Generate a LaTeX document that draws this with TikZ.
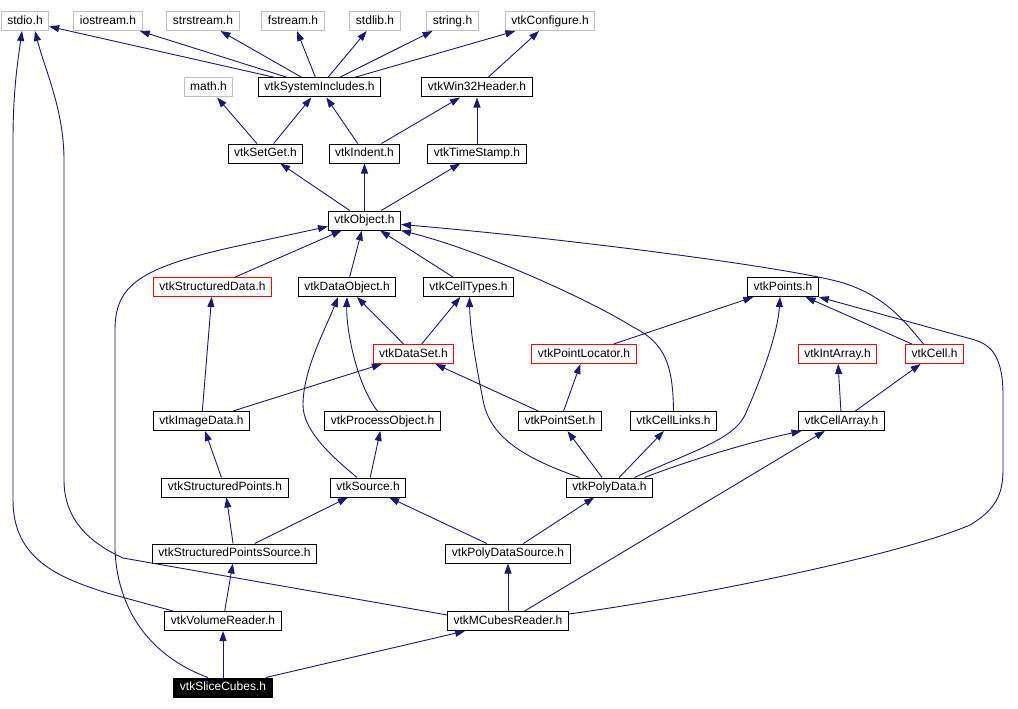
\documentclass[tikz,border=0pt]{standalone}
\usepackage{fontspec}
\setmainfont{Liberation Sans}
\usepackage{xcolor}
\usepackage{tikz}
\usetikzlibrary{arrows.meta}
\definecolor{sysgray}{HTML}{BFBFBF}
\definecolor{edgeblue}{HTML}{191970}

\begin{document}
\begin{tikzpicture}[
    x=1pt,y=-1pt,
    box/.style={draw,line width=1pt,minimum height=19pt,inner xsep=6pt,inner ysep=0pt,
        text height=9pt,text depth=2.5pt,font=\fontsize{12}{14}\selectfont},
    arrow/.style={-{Triangle[length=10pt,width=7pt]},line width=0.9pt,draw=edgeblue}
]
\useasboundingbox (0,0) rectangle (1018,709);
\node[box,draw=sysgray] (stdio) at (25,21) {stdio.h};
\node[box,draw=sysgray] (iostream) at (108,21) {iostream.h};
\node[box,draw=sysgray] (strstream) at (203,21) {strstream.h};
\node[box,draw=sysgray] (fstream) at (293,21) {fstream.h};
\node[box,draw=sysgray] (stdlib) at (375,21) {stdlib.h};
\node[box,draw=sysgray] (string) at (452.5,21) {string.h};
\node[box,draw=sysgray] (vtkconf) at (550,21) {vtkConfigure.h};
\node[box,draw=sysgray] (math) at (208.5,87.5) {math.h};
\node[box] (sysinc) at (319.5,87.5) {vtkSystemIncludes.h};
\node[box] (win32) at (477,87.5) {vtkWin32Header.h};
\node[box] (setget) at (265.5,153.5) {vtkSetGet.h};
\node[box] (indent) at (364.5,153.5) {vtkIndent.h};
\node[box] (tstamp) at (477,153.5) {vtkTimeStamp.h};
\node[box] (object) at (364.5,220.5) {vtkObject.h};
\node[box,draw=red] (sdata) at (212.5,287) {vtkStructuredData.h};
\node[box] (dobject) at (347,287) {vtkDataObject.h};
\node[box] (ctypes) at (468.5,287) {vtkCellTypes.h};
\node[box] (points) at (783,287) {vtkPoints.h};
\node[box,draw=red] (dset) at (413.5,354) {vtkDataSet.h};
\node[box,draw=red] (ploc) at (584,354) {vtkPointLocator.h};
\node[box,draw=red] (iarray) at (837.5,354) {vtkIntArray.h};
\node[box,draw=red] (cell) at (934.5,354) {vtkCell.h};
\node[box] (idata) at (201.5,421) {vtkImageData.h};
\node[box] (pobject) at (382.5,421) {vtkProcessObject.h};
\node[box] (pset) at (560,421) {vtkPointSet.h};
\node[box] (clinks) at (673.5,421) {vtkCellLinks.h};
\node[box] (carray) at (841.5,421) {vtkCellArray.h};
\node[box] (spoints) at (225,487.5) {vtkStructuredPoints.h};
\node[box] (source) at (368,487.5) {vtkSource.h};
\node[box] (pdata) at (609.5,487.5) {vtkPolyData.h};
\node[box] (spsource) at (234.5,553.5) {vtkStructuredPointsSource.h};
\node[box] (pdsource) at (508,553.5) {vtkPolyDataSource.h};
\node[box] (vreader) at (223,621) {vtkVolumeReader.h};
\node[box] (mcubes) at (508,621) {vtkMCubesReader.h};
\node[box,fill=black,text=white] (slice) at (223,687.5) {vtkSliceCubes.h};
\draw[arrow] (sysinc) -- (stdio);
\draw[arrow] (sysinc) -- (iostream);
\draw[arrow] (sysinc) -- (strstream);
\draw[arrow] (sysinc) -- (fstream);
\draw[arrow] (sysinc) -- (stdlib);
\draw[arrow] (sysinc) -- (string);
\draw[arrow] (sysinc) -- (vtkconf);
\draw[arrow] (win32) -- (vtkconf);
\draw[arrow] (setget) -- (math);
\draw[arrow] (setget) -- (sysinc);
\draw[arrow] (indent) -- (sysinc);
\draw[arrow] (indent) -- (win32);
\draw[arrow] (tstamp) -- (win32);
\draw[arrow] (object) -- (setget);
\draw[arrow] (object) -- (indent);
\draw[arrow] (object) -- (tstamp);
\draw[arrow] (sdata) -- (object);
\draw[arrow] (dobject) -- (object);
\draw[arrow] (ctypes) -- (object);
\draw[arrow] (dset) -- (dobject);
\draw[arrow] (dset) -- (ctypes);
\draw[arrow] (idata) -- (sdata);
\draw[arrow] (idata) -- (dset);
\draw[arrow] (ploc) -- (points);
\draw[arrow] (pset) -- (ploc);
\draw[arrow] (pset) -- (dset);
\draw[arrow] (pdata) -- (pset);
\draw[arrow] (pdata) -- (clinks);
\draw[arrow] (carray) -- (iarray);
\draw[arrow] (carray) -- (cell);
\draw[arrow] (cell) -- (points);
\draw[arrow] (spoints) -- (idata);
\draw[arrow] (source) -- (pobject);
\draw[arrow] (spsource) -- (spoints);
\draw[arrow] (spsource) -- (source);
\draw[arrow] (pdsource) -- (source);
\draw[arrow] (pdsource) -- (pdata);
\draw[arrow] (vreader) -- (spsource);
\draw[arrow] (mcubes) -- (pdsource);
\draw[arrow] (mcubes) -- (carray);
\draw[arrow] (slice) -- (vreader);
\draw[arrow] (slice) -- (mcubes);
\draw[arrow] ([xshift=-15pt]slice.north) .. controls (160,660) and (118,620) .. (115,550)
    -- (115,330) .. controls (115,285) and (140,268) .. (233,247) -- ([yshift=-6pt]object.west);
\draw[arrow] ([yshift=6pt]mcubes.west) -- (123,558) .. controls (90,543) and (64,520) .. (64,480)
    -- (64,160) .. controls (64,110) and (45,70) .. ([xshift=10pt]stdio.south);
\draw[arrow] ([xshift=-50pt]vreader.north) -- (107,593) .. controls (60,578) and (13,560) .. (13,500)
    -- (13,140) .. controls (13,90) and (18,60) .. ([xshift=-3pt]stdio.south);
\draw[arrow] ([xshift=-11pt]cell.north) .. controls (905,322) and (885,295) .. (840,282)
    .. controls (780,266) and (560,238) .. ([yshift=-4pt]object.east);
\draw[arrow] (clinks.north) .. controls (673,365) and (665,343) .. (633,327)
    .. controls (590,300) and (480,250) .. (object.south east);
\draw[arrow] ([xshift=-5pt]pobject.north) .. controls (357,385) and (346,330) .. (dobject.south);
\draw[arrow] ([xshift=-11pt]source.north) .. controls (330,455) and (303,430) .. (303,405)
    .. controls (303,370) and (325,330) .. ([xshift=-9pt]dobject.south);
\draw[arrow] ([xshift=-30pt]pdata.north) .. controls (530,460) and (490,440) .. (483,400)
    .. controls (476,365) and (470,330) .. ([xshift=1pt]ctypes.south);
\draw[arrow] ([xshift=25pt]pdata.north) .. controls (690,452) and (733,440) .. (745,415)
    .. controls (765,370) and (778,330) .. ([xshift=-3pt]points.south);
\draw[arrow] ([xshift=35pt]pdata.north) .. controls (690,460) and (750,442) .. ([xshift=-40pt]carray.south);
\draw[arrow] ([yshift=7pt]mcubes.east) .. controls (700,596) and (900,555) .. (970,525)
    .. controls (995,510) and (1003,495) .. (1003,470) -- (1003,395)
    .. controls (1003,355) and (990,345) .. (975,340) -- (points.south east);
\end{tikzpicture}
\end{document}
